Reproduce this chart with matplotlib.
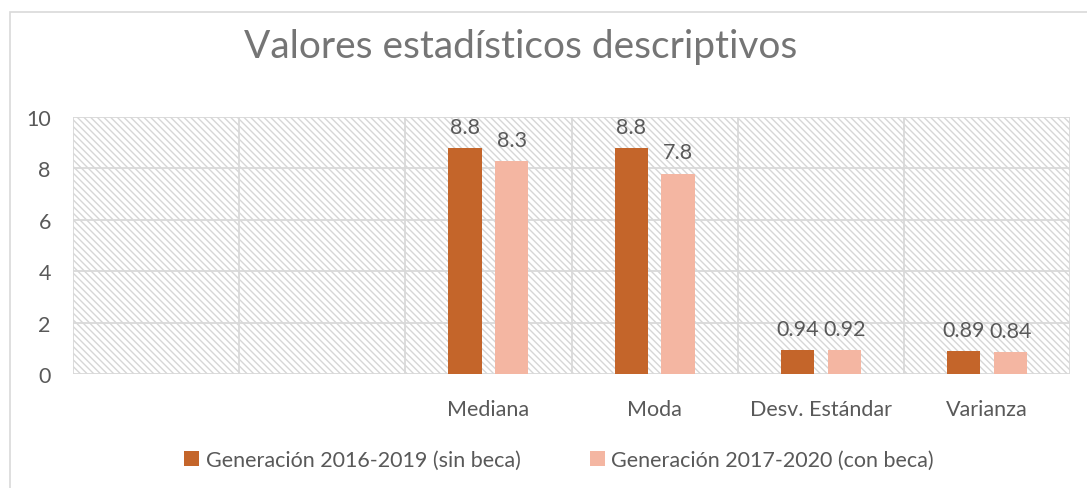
import matplotlib
matplotlib.use("Agg")
import matplotlib.pyplot as plt
import numpy as np
from matplotlib.patches import Rectangle

categories = ["", "", "Mediana", "Moda", "Desv. Estándar", "Varianza"]
sin_beca = [np.nan, np.nan, 8.8, 8.8, 0.94, 0.89]
con_beca = [np.nan, np.nan, 8.3, 7.8, 0.92, 0.84]
labels_sin = ["", "", "8.8", "8.8", "0.94", "0.89"]
labels_con = ["", "", "8.3", "7.8", "0.92", "0.84"]
series_names = ["Generación 2016-2019 (sin beca)", "Generación 2017-2020 (con beca)"]
title = "Valores estadísticos descriptivos"
yticks = [0, 2, 4, 6, 8, 10]

FONT = ["Lato", "DejaVu Sans"]
plt.rcParams["font.family"] = FONT
plt.rcParams["hatch.linewidth"] = 1.0

TXT = "#595959"
GRID = "#D9D9D9"
C1 = "#C4652A"
C2 = "#F4B6A2"

W, H = 1087, 489
fig = plt.figure(figsize=(W / 100, H / 100), dpi=100)
fig.patch.set_facecolor("white")

# chart frame
fig.patches.append(Rectangle((10 / W, -0.1), 1.2, 1 - 13 / H + 0.1, transform=fig.transFigure,
                             facecolor="none", edgecolor=GRID, linewidth=1.2, zorder=0))

ax = fig.add_axes([73 / W, 1 - 375 / H, (1070 - 73) / W, (375 - 118) / H])
ax.set_facecolor("white")
bg = Rectangle((0, 0), 1, 1, transform=ax.transAxes, facecolor="white", edgecolor="#D6D6D6",
               hatch="\\" * 5, linewidth=0, zorder=0)
ax.add_patch(bg)

x = np.arange(len(categories))
bw = 0.2
off = 0.141
b1 = ax.bar(x - off, sin_beca, bw, color=C1, label=series_names[0], zorder=3)
b2 = ax.bar(x + off, con_beca, bw, color=C2, label=series_names[1], zorder=3)

for xi, v, lab in zip(x - off, sin_beca, labels_sin):
    if lab:
        ax.annotate(lab, (xi, v), xytext=(0, 8), textcoords="offset points", ha="center",
                    va="bottom", fontsize=15.5, color=TXT)
for xi, v, lab in zip(x + off, con_beca, labels_con):
    if lab:
        ax.annotate(lab, (xi, v), xytext=(0, 8), textcoords="offset points", ha="center",
                    va="bottom", fontsize=15.5, color=TXT)

ax.set_xlim(-0.5, len(categories) - 0.5)
ax.set_ylim(0, 10)
ax.set_yticks(yticks)
ax.set_yticklabels([str(t) for t in yticks])
ax.set_xticks(x)
ax.set_xticklabels(categories)
ax.tick_params(axis="both", length=0, colors=TXT, labelsize=15.5)
ax.tick_params(axis="y", pad=16)
ax.tick_params(axis="x", pad=18)
for s in ax.spines.values():
    s.set_visible(False)
for t in yticks:
    ax.axhline(t, color=GRID, linewidth=1.3, zorder=1)
for b in np.arange(len(categories) + 1) - 0.5:
    ax.axvline(b, color=GRID, linewidth=1.3, zorder=1)

fig.text(521 / W, 1 - 47 / H, title, ha="center", va="center", fontsize=28, color="#757575")

fig.legend(handles=[b1, b2], labels=series_names, loc="center", bbox_to_anchor=(559 / W, 1 - 461 / H),
           ncol=2, frameon=False, fontsize=15.5, labelcolor=TXT, handlelength=0.7, handleheight=0.7,
           handletextpad=0.3, columnspacing=3.2)

fig.savefig("out.png", dpi=100)
